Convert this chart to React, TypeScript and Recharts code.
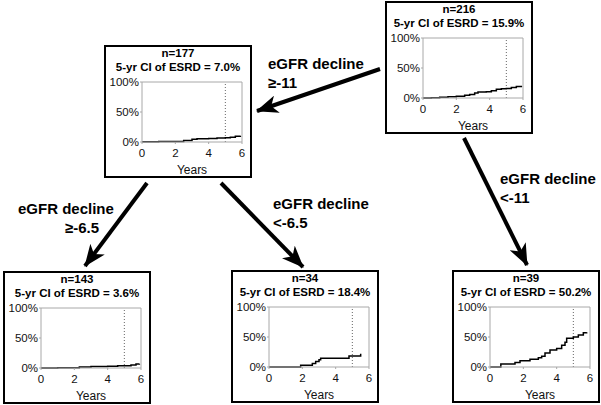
import React from 'react';
import { LineChart, Line, XAxis, YAxis, ReferenceLine } from 'recharts';

const yearTicks = [0, 2, 4, 6];
const pctTicks = [0, 50, 100];

// cumulative incidence of ESRD (%)
const allT = [0, 0.5, 1.0, 1.5, 2.0, 2.5, 2.8, 3.1, 3.3, 3.8, 4.1, 4.4, 4.7, 5.0, 5.3, 5.6, 5.9];
const allCI = [0, 0.5, 1.2, 2.0, 3.0, 4.5, 6.0, 8.5, 10.0, 10.5, 12.0, 14.5, 15.5, 15.9, 17.5, 19.0, 20.5];

const slowT = [0, 1.0, 2.0, 2.5, 3.0, 3.3, 4.0, 4.5, 5.0, 5.3, 5.6, 5.9];
const slowCI = [0.5, 0.8, 1.0, 2.5, 4.5, 5.5, 6.0, 6.5, 7.0, 8.0, 9.5, 10.5];

const slowestT = [0, 1.0, 2.3, 3.0, 4.0, 4.6, 5.4, 5.7, 5.9];
const slowestCI = [0, 0.3, 1.5, 2.5, 3.0, 3.6, 5.0, 6.5, 7.0];

const midT = [0, 1.9, 2.6, 2.8, 3.0, 3.1, 4.8, 5.5];
const midCI = [0, 3.0, 6.0, 9.0, 12.0, 14.5, 18.4, 22.0];

const fastT = [0, 0.65, 1.5, 1.8, 2.4, 2.9, 3.1, 3.3, 3.6, 4.0, 4.3, 4.5, 4.6, 5.0, 5.3, 5.6, 5.8];
const fastCI = [0, 5.1, 7.7, 10.3, 12.9, 15.5, 18.1, 23.2, 28.4, 31.0, 36.1, 41.3, 48.0, 50.2, 53.5, 57.0, 58.0];

const sizes = ['n=216', 'n=177', 'n=143', 'n=34', 'n=39'];
const ci5 = ['15.9%', '7.0%', '3.6%', '18.4%', '50.2%'];

const FONT = '"Liberation Sans", Arial, sans-serif';
const GREY = '#a8a8a8';

interface PanelProps {
  x: number;
  y: number;
  size: string;
  ci: string;
  t: number[];
  v: number[];
}

const Panel = ({ x, y, size, ci, t, v }: PanelProps) => {
  const data = t.map((tt, i) => ({ t: tt, ci: v[i] }));
  const titleStyle: React.CSSProperties = {
    position: 'absolute', left: 0, width: 148, textAlign: 'center',
    fontFamily: FONT, fontWeight: 'bold', fontSize: 11.5, lineHeight: '14px', color: '#000',
  };
  return (
    <div style={{ position: 'absolute', left: x, top: y, width: 148, height: 133 }}>
      <div style={{ position: 'absolute', left: 0, top: 0 }}>
        <LineChart width={148} height={133} data={data} margin={{ top: 37, right: 10, bottom: 14, left: 0 }}>
          <XAxis
            type="number" dataKey="t" domain={[0, 6]} ticks={yearTicks}
            stroke={GREY} tickSize={2} tickMargin={5}
            tick={{ fill: '#111', fontSize: 11.5, fontFamily: FONT }}
            height={22}
            label={{ value: 'Years', position: 'bottom', offset: 1, fill: '#111', fontSize: 12, fontFamily: FONT }}
          />
          <YAxis
            type="number" domain={[0, 100]} ticks={pctTicks} width={38}
            tickFormatter={(val: number) => `${val}%`}
            stroke={GREY} tickSize={2} tickMargin={1}
            tick={{ fill: '#111', fontSize: 11.5, fontFamily: FONT }}
          />
          <ReferenceLine y={100} stroke={GREY} />
          <ReferenceLine x={6} stroke={GREY} />
          <ReferenceLine x={5} stroke="#666" strokeDasharray="1 2" />
          <Line type="stepAfter" dataKey="ci" stroke="#000" strokeWidth={1.5} dot={false} isAnimationActive={false} />
        </LineChart>
      </div>
      <div style={{ position: 'absolute', inset: 0, border: '2px solid #000', boxSizing: 'border-box' }} />
      <div style={{ ...titleStyle, top: 1 }}>{size}</div>
      <div style={{ ...titleStyle, top: 15 }}>{`5-yr CI of ESRD = ${ci}`}</div>
    </div>
  );
};

const arrows = [
  { x1: 380, y1: 69, x2: 257, y2: 111 },
  { x1: 147, y1: 183, x2: 85, y2: 266 },
  { x1: 221, y1: 183, x2: 303, y2: 267 },
  { x1: 464, y1: 138, x2: 527, y2: 265 },
];

const labels = [
  { x: 268, y: 63, text: 'eGFR decline' },
  { x: 268, y: 82, text: '≥-11' },
  { x: 18, y: 208, text: 'eGFR decline' },
  { x: 65, y: 227, text: '≥-6.5' },
  { x: 273, y: 203, text: 'eGFR decline' },
  { x: 273, y: 222, text: '<-6.5' },
  { x: 500, y: 178, text: 'eGFR decline' },
  { x: 500, y: 197, text: '<-11' },
];

export default function App() {
  return (
    <div style={{ position: 'absolute', left: 0, top: 0, width: 601, height: 405, background: '#fff', overflow: 'hidden' }}>
      <Panel x={385} y={1} size={sizes[0]} ci={ci5[0]} t={allT} v={allCI} />
      <Panel x={104} y={45} size={sizes[1]} ci={ci5[1]} t={slowT} v={slowCI} />
      <Panel x={3} y={271} size={sizes[2]} ci={ci5[2]} t={slowestT} v={slowestCI} />
      <Panel x={231} y={270} size={sizes[3]} ci={ci5[3]} t={midT} v={midCI} />
      <Panel x={452} y={270} size={sizes[4]} ci={ci5[4]} t={fastT} v={fastCI} />
      <svg width={601} height={405} style={{ position: 'absolute', left: 0, top: 0, pointerEvents: 'none' }}>
        <defs>
          <marker id="head" markerUnits="userSpaceOnUse" markerWidth={22} markerHeight={18} refX={21} refY={9} orient="auto">
            <path d="M0,0 L22,9 L0,18 L6,9 Z" fill="#000" />
          </marker>
        </defs>
        {arrows.map((a, i) => (
          <line key={i} x1={a.x1} y1={a.y1} x2={a.x2} y2={a.y2} stroke="#000" strokeWidth={4} markerEnd="url(#head)" />
        ))}
        {labels.map((l, i) => (
          <text key={i} x={l.x} y={l.y + 5.5} fontFamily={FONT} fontWeight="bold" fontSize={15} fill="#000">{l.text}</text>
        ))}
      </svg>
    </div>
  );
}
